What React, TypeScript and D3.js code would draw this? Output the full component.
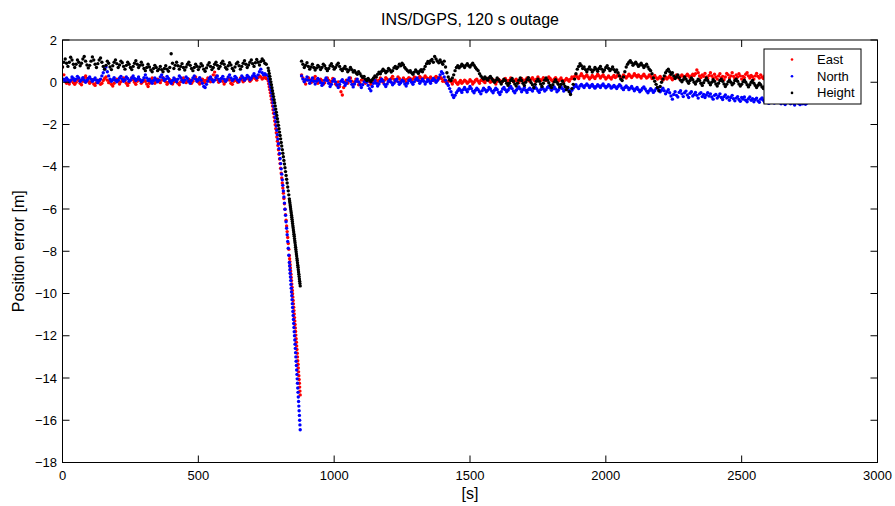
import React from "react";
import * as d3 from "d3";

// ---------- data ----------
const seriesNames = ["East", "North", "Height"];
const seriesColors = ["#ff0000", "#0000ff", "#000000"];
const xTicks = [0, 500, 1000, 1500, 2000, 2500, 3000];
const yTicks = [2, 0, -2, -4, -6, -8, -10, -12, -14, -16, -18];

// before outage: t = 0..750, every 5 s
const preTimes = d3.range(0, 751, 5);
const preEast = [
  0.72, 0.35, 0.10, -0.05, 0.02, -0.08, 0.05, 0.12, -0.02, -0.10,
  0.00, 0.15, 0.08, -0.05, -0.12, 0.05, 0.22, 0.30, 0.18, 0.05,
  -0.05, 0.02, 0.12, -0.08, -0.15, -0.02, 0.10, 0.05, -0.10, -0.05,
  0.08, 0.18, 0.25, 0.10, -0.02, 0.05, -0.10, -0.18, -0.05, 0.10,
  0.15, 0.05, -0.08, 0.02, 0.12, 0.20, 0.08, -0.05, -0.15, -0.02,
  0.10, 0.22, 0.12, 0.00, -0.10, 0.05, 0.18, 0.10, -0.05, 0.02,
  0.12, 0.05, -0.08, -0.20, -0.05, 0.10, 0.20, 0.08, -0.05, 0.05,
  0.15, 0.08, -0.02, 0.10, 0.22, 0.15, 0.02, -0.10, 0.00, 0.12,
  0.05, -0.08, 0.02, 0.15, 0.08, -0.05, -0.12, 0.02, 0.12, 0.20,
  0.10, -0.02, 0.05, 0.15, 0.08, -0.05, 0.05, 0.18, 0.25, 0.12,
  0.00, -0.08, 0.05, 0.15, 0.08, -0.02, 0.10, 0.20, 0.12, 0.02,
  0.15, 0.35, 0.48, 0.30, 0.12, 0.00, 0.08, 0.18, 0.05, -0.08,
  0.02, 0.12, 0.20, 0.10, -0.05, -0.10, 0.05, 0.15, 0.08, 0.00,
  0.10, 0.20, 0.12, 0.02, 0.08, 0.18, 0.25, 0.15, 0.05, 0.12,
  0.20, 0.28, 0.18, 0.10, 0.22, 0.30, 0.25, 0.15, 0.20, 0.25,
  0.18,
];
const preNorth = [
  0.10, 0.15, 0.05, 0.20, 0.12, 0.02, 0.10, 0.25, 0.18, 0.08,
  0.15, 0.28, 0.20, 0.05, 0.12, 0.22, 0.10, 0.00, 0.08, 0.18,
  0.25, 0.15, 0.05, 0.12, 0.20, 0.10, -0.02, 0.08, 0.15, 0.30,
  0.45, 0.62, 0.72, 0.50, 0.30, 0.15, 0.05, 0.12, 0.22, 0.10,
  0.02, 0.10, 0.20, 0.28, 0.15, 0.05, 0.12, 0.25, 0.18, 0.05,
  0.10, 0.20, 0.30, 0.18, 0.08, 0.15, 0.25, 0.12, 0.02, 0.10,
  0.22, 0.35, 0.20, 0.08, 0.15, 0.05, -0.05, 0.08, 0.20, 0.12,
  0.02, 0.10, 0.25, 0.35, 0.20, 0.08, 0.15, 0.28, 0.18, 0.05,
  -0.05, 0.08, 0.20, 0.12, 0.02, 0.15, 0.30, 0.22, 0.10, 0.00,
  0.10, 0.25, 0.18, 0.05, -0.05, 0.08, 0.20, 0.30, 0.15, 0.05,
  0.12, 0.22, 0.10, -0.05, -0.20, -0.25, -0.10, 0.05, 0.18, 0.25,
  0.12, 0.02, 0.10, 0.22, 0.30, 0.15, 0.05, 0.18, 0.28, 0.15,
  0.05, 0.12, 0.25, 0.35, 0.20, 0.08, 0.15, 0.28, 0.20, 0.10,
  0.02, 0.15, 0.30, 0.22, 0.10, 0.18, 0.32, 0.25, 0.12, 0.20,
  0.30, 0.40, 0.28, 0.20, 0.35, 0.50, 0.62, 0.45, 0.35, 0.40,
  0.35,
];
const preHeight = [
  0.72, 0.95, 1.10, 0.90, 0.75, 0.95, 1.18, 1.05, 0.85, 0.70,
  0.85, 1.05, 0.95, 0.78, 0.90, 1.10, 1.22, 1.00, 0.82, 0.68,
  0.80, 1.00, 1.20, 1.05, 0.85, 0.70, 0.88, 1.05, 1.15, 0.95,
  0.75, 0.62, 0.80, 1.00, 0.90, 0.72, 0.60, 0.78, 0.95, 1.05,
  0.88, 0.70, 0.82, 1.00, 0.92, 0.75, 0.62, 0.80, 0.95, 0.85,
  0.70, 0.60, 0.75, 0.90, 1.02, 0.85, 0.70, 0.80, 0.95, 0.82,
  0.65, 0.55, 0.70, 0.85, 0.72, 0.58, 0.50, 0.65, 0.80, 0.70,
  0.55, 0.62, 0.75, 0.60, 0.50, 0.65, 0.78, 0.62, 0.52, 0.70,
  1.35, 0.90, 0.65, 0.80, 0.95, 0.78, 0.62, 0.75, 0.88, 0.70,
  0.58, 0.72, 0.85, 0.95, 0.80, 0.65, 0.55, 0.70, 0.85, 0.75,
  0.60, 0.72, 0.88, 0.78, 0.62, 0.52, 0.68, 0.82, 0.92, 0.75,
  0.60, 0.70, 0.85, 0.95, 0.80, 0.65, 0.75, 0.90, 1.00, 0.85,
  0.70, 0.62, 0.78, 0.92, 0.82, 0.65, 0.55, 0.72, 0.88, 0.95,
  0.78, 0.62, 0.75, 0.90, 1.02, 0.85, 0.70, 0.82, 0.95, 1.05,
  0.88, 0.75, 0.92, 1.08, 0.95, 0.82, 0.98, 1.10, 1.02, 0.90,
  0.85,
];

// outage: t = 757..835 every 2 s, then 836..875 every 1 s
const dropTimes = [...d3.range(757, 836, 2), ...d3.range(836, 876, 1)];
const dropEast = [
  0.07, -0.07, -0.21, -0.35, -0.50, -0.65, -0.81, -0.97, -1.13, -1.30,
  -1.47, -1.65, -1.83, -2.01, -2.20, -2.39, -2.59, -2.79, -2.99, -3.20,
  -3.41, -3.63, -3.85, -4.07, -4.30, -4.53, -4.77, -5.01, -5.25, -5.50,
  -5.75, -6.01, -6.27, -6.53, -6.80, -7.07, -7.35, -7.63, -7.91, -8.20,
  -8.35, -8.49, -8.64, -8.79, -8.94, -9.09, -9.24, -9.39, -9.55, -9.70,
  -9.86, -10.01, -10.17, -10.33, -10.49, -10.65, -10.81, -10.97, -11.14, -11.30,
  -11.47, -11.63, -11.80, -11.97, -12.14, -12.31, -12.48, -12.65, -12.83, -13.00,
  -13.18, -13.35, -13.53, -13.71, -13.89, -14.07, -14.25, -14.43, -14.62, -14.80,
];
const dropNorth = [
  0.29, 0.17, 0.05, -0.08, -0.21, -0.35, -0.50, -0.65, -0.81, -0.97,
  -1.14, -1.31, -1.49, -1.68, -1.87, -2.07, -2.27, -2.48, -2.69, -2.91,
  -3.14, -3.37, -3.61, -3.85, -4.10, -4.35, -4.62, -4.88, -5.15, -5.43,
  -5.72, -6.01, -6.30, -6.60, -6.91, -7.22, -7.54, -7.86, -8.19, -8.53,
  -8.70, -8.87, -9.04, -9.22, -9.39, -9.57, -9.75, -9.93, -10.11, -10.29,
  -10.48, -10.66, -10.85, -11.04, -11.23, -11.42, -11.61, -11.81, -12.00, -12.20,
  -12.40, -12.60, -12.80, -13.00, -13.21, -13.41, -13.62, -13.83, -14.04, -14.25,
  -14.47, -14.68, -14.90, -15.11, -15.33, -15.55, -15.77, -16.00, -16.22, -16.45,
];
const dropHeight = [
  0.67, 0.55, 0.42, 0.28, 0.15, 0.02, -0.12, -0.26, -0.40, -0.54,
  -0.68, -0.83, -0.97, -1.12, -1.27, -1.42, -1.57, -1.73, -1.88, -2.04,
  -2.20, -2.36, -2.52, -2.68, -2.85, -3.02, -3.19, -3.36, -3.53, -3.70,
  -3.87, -4.05, -4.23, -4.41, -4.59, -4.77, -4.96, -5.14, -5.33, -5.52,
  -5.62, -5.71, -5.81, -5.90, -6.00, -6.10, -6.19, -6.29, -6.39, -6.49,
  -6.59, -6.69, -6.79, -6.89, -6.99, -7.09, -7.19, -7.29, -7.40, -7.50,
  -7.60, -7.71, -7.81, -7.92, -8.02, -8.13, -8.23, -8.34, -8.44, -8.55,
  -8.66, -8.76, -8.87, -8.98, -9.09, -9.20, -9.31, -9.42, -9.53, -9.64,
];

// after outage: t = 880..2740, every 5 s
const postTimes = d3.range(880, 2741, 5);
const postEast = [
  0.35, 0.20, 0.05, -0.08, 0.10, 0.22, 0.12, -0.02, 0.05, 0.18,
  0.28, 0.12, -0.05, 0.02, 0.15, 0.08, -0.10, -0.02, 0.12, 0.20,
  0.10, -0.05, 0.05, 0.18, 0.10, -0.08, -0.15, 0.02, -0.20, -0.45,
  -0.60, -0.25, 0.00, 0.10, -0.05, 0.08, 0.20, 0.05, -0.10, 0.02,
  0.15, 0.05, -0.12, -0.05, 0.10, 0.22, 0.08, -0.05, 0.05, 0.15,
  0.02, -0.10, 0.05, 0.18, 0.25, 0.10, -0.02, 0.08, 0.20, 0.12,
  0.00, 0.10, 0.22, 0.15, 0.02, 0.08, 0.18, 0.28, 0.15, 0.05,
  0.12, 0.25, 0.18, 0.05, 0.10, 0.20, 0.12, 0.02, 0.15, 0.22,
  0.18, 0.08, 0.15, 0.25, 0.20, 0.10, 0.18, 0.28, 0.20, 0.12,
  0.20, 0.30, 0.22, 0.12, 0.18, 0.25, 0.15, 0.08, 0.20, 0.28,
  0.22, 0.15, 0.25, 0.18, 0.05, 0.10, 0.02, -0.05, 0.05, 0.12,
  0.02, -0.08, 0.05, 0.10, -0.02, -0.10, 0.00, 0.08, -0.05, 0.02,
  0.10, 0.05, -0.05, 0.02, 0.12, 0.05, -0.08, 0.00, 0.10, 0.15,
  0.05, -0.05, 0.08, 0.15, 0.05, -0.02, 0.10, 0.18, 0.08, 0.00,
  0.05, 0.12, 0.02, -0.08, 0.05, 0.15, 0.08, -0.02, 0.05, 0.12,
  0.18, 0.08, 0.00, 0.10, 0.20, 0.12, 0.02, 0.08, 0.15, 0.05,
  -0.02, 0.08, 0.18, 0.10, 0.02, 0.12, 0.20, 0.10, 0.05, 0.15,
  0.22, 0.12, 0.05, 0.15, 0.25, 0.15, 0.08, 0.12, 0.22, 0.15,
  0.08, 0.15, 0.25, 0.18, 0.10, 0.05, 0.15, 0.22, 0.12, 0.05,
  0.12, 0.20, 0.10, 0.02, 0.10, 0.18, 0.12, 0.05, 0.15, 0.25,
  0.18, 0.28, 0.35, 0.25, 0.18, 0.30, 0.40, 0.30, 0.20, 0.28,
  0.35, 0.25, 0.15, 0.22, 0.32, 0.25, 0.18, 0.28, 0.38, 0.30,
  0.20, 0.28, 0.35, 0.25, 0.15, 0.22, 0.30, 0.22, 0.15, 0.25,
  0.32, 0.22, 0.28, 0.38, 0.30, 0.20, 0.25, 0.35, 0.28, 0.20,
  0.28, 0.38, 0.30, 0.22, 0.30, 0.40, 0.32, 0.25, 0.35, 0.28,
  0.20, 0.30, 0.38, 0.28, 0.20, 0.25, 0.35, 0.28, 0.18, 0.25,
  0.32, 0.22, 0.15, 0.20, 0.28, 0.18, 0.10, 0.18, 0.25, 0.15,
  0.22, 0.30, 0.20, 0.12, 0.20, 0.28, 0.35, 0.25, 0.18, 0.28,
  0.35, 0.28, 0.20, 0.30, 0.38, 0.30, 0.22, 0.30, 0.38, 0.32,
  0.40, 0.58, 0.45, 0.30, 0.22, 0.35, 0.28, 0.42, 0.25, 0.18,
  0.32, 0.45, 0.30, 0.20, 0.38, 0.25, 0.15, 0.30, 0.40, 0.22,
  0.28, 0.12, 0.25, 0.42, 0.35, 0.20, 0.30, 0.45, 0.28, 0.18,
  0.35, 0.25, 0.40, 0.30, 0.15, 0.28, 0.22, 0.38, 0.45, 0.30,
  0.20, 0.32, 0.26, 0.15, 0.30, 0.42, 0.28, 0.20, 0.35, 0.25,
  0.18, 0.30, 0.40, 0.25, 0.32, 0.22, 0.15, 0.28, 0.38, 0.30,
  0.22, 0.35, 0.28, 0.18, 0.25, 0.40, 0.32, 0.20, 0.28, 0.36,
  0.25, 0.18, 0.30, 0.38, 0.26, 0.20, 0.32, 0.24, 0.35, 0.28,
  0.20, 0.30, 0.25,
];
const postNorth = [
  0.30, 0.15, 0.02, 0.12, 0.25, 0.10, -0.05, 0.08, 0.20, 0.05,
  -0.08, 0.05, 0.18, 0.10, -0.02, -0.15, -0.05, 0.10, 0.20, 0.08,
  -0.05, -0.20, -0.10, 0.05, 0.15, 0.02, -0.12, -0.25, -0.10, 0.05,
  0.12, 0.00, -0.15, -0.05, 0.10, 0.20, 0.05, -0.10, -0.22, -0.08,
  0.05, 0.15, 0.02, -0.12, -0.25, -0.12, 0.02, 0.12, 0.00, -0.15,
  -0.30, -0.40, -0.20, -0.05, 0.08, -0.05, -0.18, -0.08, 0.05, 0.15,
  0.05, -0.10, -0.20, -0.08, 0.05, 0.12, 0.00, -0.12, -0.05, 0.08,
  0.15, 0.02, -0.10, -0.02, 0.10, 0.05, -0.08, -0.18, -0.05, 0.08,
  0.12, 0.00, -0.10, 0.02, 0.12, 0.20, 0.08, -0.05, 0.05, 0.15,
  0.05, -0.08, 0.02, 0.12, 0.05, -0.05, 0.08, 0.18, 0.10, 0.00,
  0.08, 0.20, 0.35, 0.50, 0.42, 0.25, 0.10, -0.05, -0.15, -0.30,
  -0.45, -0.60, -0.72, -0.62, -0.50, -0.40, -0.30, -0.38, -0.48, -0.35,
  -0.25, -0.35, -0.45, -0.32, -0.20, -0.30, -0.42, -0.50, -0.38, -0.28,
  -0.35, -0.45, -0.55, -0.40, -0.28, -0.35, -0.45, -0.38, -0.25, -0.32,
  -0.42, -0.50, -0.38, -0.28, -0.35, -0.48, -0.58, -0.45, -0.32, -0.25,
  -0.35, -0.45, -0.38, -0.28, -0.20, -0.30, -0.42, -0.50, -0.38, -0.30,
  -0.22, -0.32, -0.45, -0.35, -0.25, -0.38, -0.48, -0.35, -0.28, -0.35,
  -0.42, -0.30, -0.22, -0.30, -0.40, -0.48, -0.35, -0.25, -0.32, -0.42,
  -0.35, -0.25, -0.18, -0.28, -0.38, -0.30, -0.22, -0.32, -0.45, -0.38,
  -0.28, -0.20, -0.30, -0.42, -0.35, -0.25, -0.30, -0.40, -0.50, -0.38,
  -0.28, -0.20, -0.12, -0.22, -0.30, -0.18, -0.10, -0.18, -0.25, -0.15,
  -0.08, -0.15, -0.25, -0.18, -0.10, -0.20, -0.28, -0.20, -0.12, -0.18,
  -0.25, -0.15, -0.08, -0.18, -0.26, -0.20, -0.12, -0.18, -0.28, -0.22,
  -0.15, -0.22, -0.30, -0.20, -0.12, -0.18, -0.28, -0.35, -0.25, -0.18,
  -0.25, -0.35, -0.28, -0.20, -0.30, -0.40, -0.32, -0.25, -0.35, -0.45,
  -0.38, -0.28, -0.22, -0.32, -0.42, -0.50, -0.40, -0.30, -0.38, -0.48,
  -0.40, -0.30, -0.25, -0.35, -0.45, -0.38, -0.28, -0.40, -0.55, -0.45,
  -0.35, -0.50, -0.65, -0.80, -0.58, -0.45, -0.62, -0.70, -0.48, -0.40,
  -0.55, -0.68, -0.50, -0.42, -0.60, -0.72, -0.52, -0.45, -0.65, -0.58,
  -0.48, -0.62, -0.75, -0.55, -0.50, -0.68, -0.58, -0.72, -0.60, -0.50,
  -0.65, -0.55, -0.70, -0.80, -0.62, -0.58, -0.75, -0.66, -0.55, -0.72,
  -0.82, -0.68, -0.60, -0.75, -0.70, -0.85, -0.72, -0.62, -0.78, -0.88,
  -0.75, -0.68, -0.82, -0.90, -0.72, -0.80, -0.70, -0.85, -0.92, -0.78,
  -0.70, -0.85, -0.78, -0.92, -0.82, -0.75, -0.88, -0.95, -0.80, -0.74,
  -0.85, -0.95, -0.82, -0.90, -1.00, -0.86, -0.80, -0.92, -0.98, -0.88,
  -0.95, -0.84, -0.92, -1.02, -0.90, -0.98, -1.05, -0.92, -0.86, -0.96,
  -1.02, -0.92, -0.98, -1.08, -0.95, -0.90, -1.00, -1.06, -0.94, -1.02,
  -0.96, -1.04, -0.98,
];
const postHeight = [
  1.00, 0.85, 0.70, 0.80, 0.92, 0.75, 0.62, 0.72, 0.85, 0.70,
  0.58, 0.68, 0.80, 0.72, 0.60, 0.70, 0.85, 0.78, 0.65, 0.55,
  0.65, 0.78, 0.88, 0.75, 0.62, 0.70, 0.82, 0.90, 0.75, 0.62,
  0.55, 0.65, 0.75, 0.62, 0.50, 0.58, 0.70, 0.60, 0.48, 0.55,
  0.45, 0.38, 0.50, 0.40, 0.30, 0.22, 0.28, 0.15, 0.08, 0.18,
  0.10, 0.02, 0.12, 0.20, 0.30, 0.25, 0.38, 0.48, 0.40, 0.52,
  0.62, 0.55, 0.45, 0.52, 0.65, 0.58, 0.48, 0.55, 0.68, 0.75,
  0.65, 0.72, 0.85, 0.78, 0.90, 0.82, 0.70, 0.62, 0.55, 0.48,
  0.55, 0.45, 0.38, 0.48, 0.58, 0.50, 0.42, 0.52, 0.60, 0.50,
  0.62, 0.75, 0.88, 0.98, 0.90, 1.02, 1.08, 0.95, 1.22, 1.10,
  1.00, 0.92, 1.05, 0.95, 0.85, 1.00, 0.72, 0.45, 0.25, 0.12,
  0.08, 0.20, 0.35, 0.55, 0.70, 0.78, 0.68, 0.75, 0.85, 0.78,
  0.70, 0.80, 0.88, 0.78, 0.72, 0.82, 0.90, 0.80, 0.70, 0.62,
  0.55, 0.40, 0.30, 0.22, 0.15, 0.25, 0.18, 0.10, 0.20, 0.28,
  0.18, 0.08, 0.00, 0.10, 0.20, 0.12, 0.02, -0.08, 0.05, 0.15,
  0.08, -0.05, -0.15, -0.05, 0.08, 0.18, 0.05, -0.08, -0.18, -0.05,
  0.10, 0.20, 0.08, -0.05, -0.15, 0.00, 0.12, 0.22, 0.10, -0.02,
  -0.12, -0.25, -0.10, 0.05, 0.15, 0.05, -0.08, -0.20, -0.05, 0.10,
  0.20, 0.10, -0.02, -0.15, -0.25, -0.12, 0.02, 0.12, 0.00, -0.10,
  -0.22, -0.10, 0.05, -0.08, -0.20, -0.35, -0.25, -0.45, -0.58, -0.30,
  -0.10, 0.15, 0.40, 0.62, 0.75, 0.88, 0.78, 0.65, 0.72, 0.60,
  0.50, 0.62, 0.72, 0.60, 0.48, 0.58, 0.70, 0.62, 0.52, 0.65,
  0.75, 0.62, 0.50, 0.58, 0.70, 0.78, 0.65, 0.55, 0.62, 0.72,
  0.60, 0.50, 0.58, 0.45, 0.30, 0.15, 0.08, 0.25, 0.50, 0.72,
  0.85, 0.95, 1.02, 0.92, 0.80, 0.88, 0.95, 0.85, 0.75, 0.82,
  0.90, 0.80, 0.70, 0.78, 0.85, 0.72, 0.62, 0.55, 0.40, 0.20,
  0.05, -0.10, -0.25, -0.40, -0.20, 0.00, 0.15, 0.30, 0.45, 0.55,
  0.62, 0.50, 0.38, 0.45, 0.30, 0.18, 0.25, 0.35, 0.22, 0.10,
  0.02, 0.12, 0.25, 0.15, 0.05, -0.05, 0.08, 0.20, 0.12, 0.00,
  -0.08, 0.05, 0.15, 0.08, -0.05, -0.15, -0.02, 0.10, 0.20, 0.08,
  -0.02, -0.12, 0.00, 0.12, 0.05, -0.08, -0.18, -0.05, 0.08, 0.15,
  0.05, -0.08, -0.20, -0.10, 0.02, 0.10, 0.00, -0.12, -0.05, 0.08,
  0.15, 0.05, -0.08, -0.18, -0.10, 0.02, 0.10, 0.00, -0.12, -0.22,
  -0.12, 0.00, 0.08, -0.05, -0.15, -0.25, -0.15, -0.05, -0.12, -0.22,
  -0.30, -0.20, -0.12, -0.20, -0.30, -0.38, -0.28, -0.18, -0.25, -0.35,
  -0.28, -0.18, -0.25, -0.35, -0.42, -0.32, -0.22, -0.30, -0.40, -0.30,
  -0.22, -0.30, -0.40, -0.32, -0.22, -0.28, -0.38, -0.45, -0.35, -0.25,
  -0.30, -0.40, -0.35,
];

// ---------- layout ----------
const W = 895;
const H = 506;
const M = { left: 62.5, right: 877.5, top: 40, bottom: 462.5 };
const FONT = "'Liberation Sans', Arial, Helvetica, sans-serif";
const TICK = 7;
const DOT_R = 1.7;

function pairs(times: number[], vals: number[]) {
  const n = Math.min(times.length, vals.length);
  const out: [number, number][] = [];
  for (let i = 0; i < n; i++) out.push([times[i], vals[i]]);
  return out;
}

const seriesData = [
  [...pairs(preTimes, preEast), ...pairs(dropTimes, dropEast), ...pairs(postTimes, postEast)],
  [...pairs(preTimes, preNorth), ...pairs(dropTimes, dropNorth), ...pairs(postTimes, postNorth)],
  [...pairs(preTimes, preHeight), ...pairs(dropTimes, dropHeight), ...pairs(postTimes, postHeight)],
];

const fmt = (v: number) => (v < 0 ? "\u2212" + Math.abs(v) : String(v));

export default function App() {
  const x = d3.scaleLinear().domain([0, 3000]).range([M.left, M.right]);
  const y = d3.scaleLinear().domain([-18, 2]).range([M.bottom, M.top]);

  const legX = 764;
  const legY = 49;
  const legW = 97;
  const legH = 55;

  return (
    <svg
      width={W}
      height={H}
      style={{ position: "absolute", left: 0, top: 0, background: "#fff" }}
      fontFamily={FONT}
    >
      <rect x={0} y={0} width={W} height={H} fill="#fff" />
      <defs>
        <clipPath id="plotclip">
          <rect x={M.left} y={M.top} width={M.right - M.left} height={M.bottom - M.top} />
        </clipPath>
      </defs>

      {/* data */}
      <g clipPath="url(#plotclip)">
        {seriesData.map((pts, si) => (
          <g key={si} fill={seriesColors[si]}>
            {pts.map((p, i) => (
              <circle key={i} cx={x(p[0])} cy={y(p[1])} r={DOT_R} />
            ))}
          </g>
        ))}
      </g>

      {/* box */}
      <rect
        x={M.left}
        y={M.top}
        width={M.right - M.left}
        height={M.bottom - M.top}
        fill="none"
        stroke="#000"
        strokeWidth={1}
      />

      {/* x ticks */}
      {xTicks.map((t) => (
        <g key={"x" + t}>
          <line x1={x(t)} x2={x(t)} y1={M.bottom} y2={M.bottom - TICK} stroke="#000" />
          <line x1={x(t)} x2={x(t)} y1={M.top} y2={M.top + TICK} stroke="#000" />
          <text x={x(t)} y={480} fontSize={13} textAnchor="middle" fill="#000">
            {fmt(t)}
          </text>
        </g>
      ))}

      {/* y ticks */}
      {yTicks.map((t) => (
        <g key={"y" + t}>
          <line x1={M.left} x2={M.left + TICK} y1={y(t)} y2={y(t)} stroke="#000" />
          <line x1={M.right} x2={M.right - TICK} y1={y(t)} y2={y(t)} stroke="#000" />
          <text x={57} y={y(t) + 4.5} fontSize={13} textAnchor="end" fill="#000">
            {fmt(t)}
          </text>
        </g>
      ))}

      {/* titles */}
      <text x={(M.left + M.right) / 2} y={25} fontSize={16} textAnchor="middle" fill="#000">
        INS/DGPS, 120 s outage
      </text>
      <text x={(M.left + M.right) / 2} y={499} fontSize={16} textAnchor="middle" fill="#000">
        [s]
      </text>
      <text
        transform={`translate(24, ${(M.top + M.bottom) / 2}) rotate(-90)`}
        fontSize={16}
        textAnchor="middle"
        fill="#000"
      >
        Position error [m]
      </text>

      {/* legend */}
      <g>
        <rect x={legX} y={legY} width={legW} height={legH} fill="#fff" stroke="#000" strokeWidth={1} />
        {seriesNames.map((name, i) => (
          <g key={name}>
            <circle cx={legX + 28} cy={legY + 10.5 + i * 16.7} r={1.3} fill={seriesColors[i]} />
            <text x={legX + 53} y={legY + 15 + i * 16.7} fontSize={13} fill="#000">
              {name}
            </text>
          </g>
        ))}
      </g>
    </svg>
  );
}
